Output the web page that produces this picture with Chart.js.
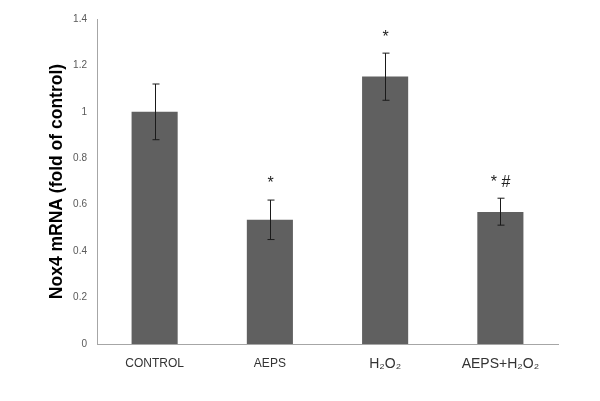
<!DOCTYPE html>
<html>
<head>
<meta charset="utf-8">
<script src="https://cdn.jsdelivr.net/npm/chart.js@4/dist/chart.umd.min.js"></script>
<style>
  html, body { margin: 0; padding: 0; background: #fff; }
  #wrap { width: 600px; height: 401px; }
</style>
</head>
<body>
<div id="wrap"><canvas id="c"></canvas></div>
<script>
const labels = ['CONTROL', 'AEPS', 'H\u2082O\u2082', 'AEPS+H\u2082O\u2082'];
const values = [1.0, 0.535, 1.152, 0.569];
const errUp = [1.12, 0.62, 1.253, 0.628];
const errDown = [0.88, 0.45, 1.05, 0.512];
const marks = ['', '*', '*', '* #'];
const yTicks = [0, 0.2, 0.4, 0.6, 0.8, 1, 1.2, 1.4];

const errorBars = {
    id: 'errorBars',
    afterDatasetsDraw(chart) {
        const ctx = chart.ctx;
        const x = chart.scales.x, y = chart.scales.y;
        ctx.save();
        ctx.strokeStyle = '#1a1a1a';
        ctx.lineWidth = 1;
        labels.forEach((l, i) => {
            const cx = Math.round(x.getPixelForValue(i)) + 0.5;
            const top = y.getPixelForValue(errUp[i]);
            const bot = y.getPixelForValue(errDown[i]);
            ctx.beginPath();
            ctx.moveTo(cx, top); ctx.lineTo(cx, bot);
            ctx.moveTo(cx - 3, top); ctx.lineTo(cx + 4, top);
            ctx.moveTo(cx - 3, bot); ctx.lineTo(cx + 4, bot);
            ctx.stroke();
            if (marks[i]) {
                ctx.fillStyle = '#222';
                ctx.font = '16px "Liberation Sans", Arial, sans-serif';
                ctx.textAlign = 'center';
                ctx.textBaseline = 'middle';
                ctx.fillText(marks[i], cx, top - 16);
            }
        });
        ctx.restore();
    }
};

new Chart(document.getElementById('c'), {
    type: 'bar',
    data: {
        labels: labels,
        datasets: [{
            data: values,
            backgroundColor: '#606060',
            borderWidth: 0,
            categoryPercentage: 1,
            barPercentage: 0.4
        }]
    },
    options: {
        responsive: true,
        maintainAspectRatio: false,
        animation: false,
        layout: { padding: { left: 47, right: 42, top: 19, bottom: 0 } },
        plugins: { legend: { display: false }, tooltip: { enabled: false } },
        scales: {
            x: {
                grid: { display: false, drawTicks: false },
                border: { color: '#a6a6a6', width: 1 },
                ticks: {
                    padding: 12,
                    color: '#333',
                    font: c => ({ family: '"Liberation Sans", "DejaVu Sans", sans-serif', size: c.index >= 2 ? 14 : 12 }),
                    maxRotation: 0
                },
                afterFit(scale) { scale.height = 57; }
            },
            y: {
                min: 0,
                max: 1.4,
                grid: { display: false, drawTicks: false },
                border: { color: '#a6a6a6', width: 1 },
                afterBuildTicks(scale) { scale.ticks = yTicks.map(v => ({ value: v })); },
                ticks: {
                    padding: 10,
                    color: '#595959',
                    font: { family: '"Liberation Sans", Arial, sans-serif', size: 10 },
                    callback: v => String(Math.round(v * 10) / 10)
                },
                title: {
                    display: true,
                    text: 'Nox4 mRNA (fold of control)',
                    color: '#000',
                    font: { family: '"Liberation Sans", Arial, sans-serif', size: 17.5, weight: 'bold' },
                    padding: 0
                },
                afterFit(scale) { scale.width = 50; }
            }
        }
    },
    plugins: [errorBars]
});
</script>
</body>
</html>
